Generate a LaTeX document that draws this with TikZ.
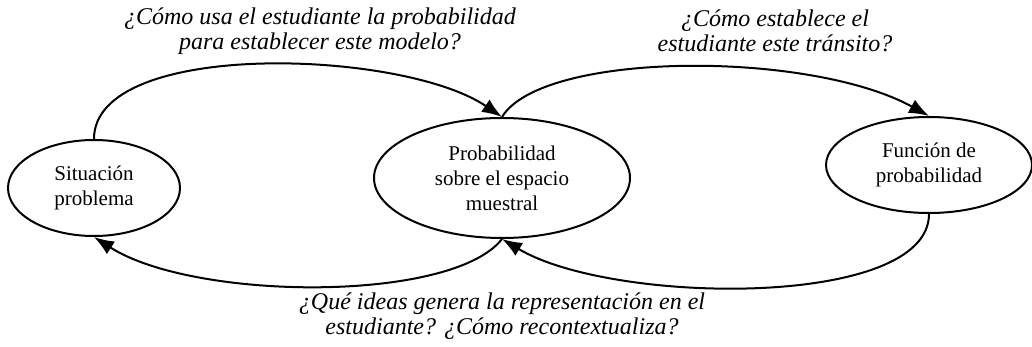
\documentclass[tikz,border=0pt]{standalone}
\usepackage{fontspec}
\setmainfont{Liberation Serif}
\usepackage{tikz}
\usetikzlibrary{calc,arrows,arrows.meta,shapes.geometric}

\begin{document}
\begin{tikzpicture}[x=0.5pt,y=-0.5pt,line width=1pt,
  elip/.style={ellipse,draw,inner sep=0pt,align=center,font=\fontsize{10.5}{12.5}\selectfont},
  preg/.style={align=center,inner sep=0pt,font=\fontsize{12}{12.5}\selectfont\itshape},
  flecha/.style={-{Latex[length=10pt,width=7.5pt]}}]
                 \useasboundingbox (0,0) rectangle (1032,347);
                 \node[elip,minimum width=86pt,minimum height=48pt](a)at(94,188){Situación\\problema};
                 \node[elip,minimum width=128pt,minimum height=60pt](b)at(502,178){Probabilidad\\sobre el espacio\\muestral};
                 \node[elip,minimum width=103pt,minimum height=48pt](c)at(929,165){Función de\\probabilidad};
                 \node[preg](p1)at(320,31){¿Cómo usa el estudiante la probabilidad\\para establecer este modelo?};
                 \node[preg](p2)at(775,31){¿Cómo establece el\\estudiante este tránsito?};
                 \node[preg](p3)at(502,316){¿Qué ideas genera la representación en el\\estudiante? ¿Cómo recontextualiza?};
                 \draw[flecha](a.north) .. controls +(0,-100) and +(-100,-68) .. (b.north);
                 \draw[flecha](b.north) .. controls +(40,-66) and +(-120,-66) .. (c.north);
                 \draw[flecha](c.south) .. controls +(0,95) and +(110,66) .. (b.south);
                 \draw[flecha](b.south) .. controls +(-50,64) and +(100,64) .. (a.south);
               \end{tikzpicture}
\end{document}
